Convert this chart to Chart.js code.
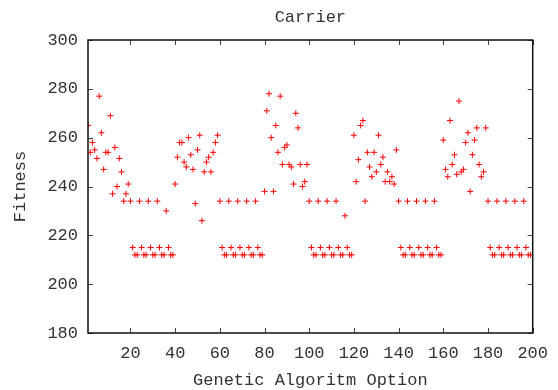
<!DOCTYPE html>
<html>
<head>
<meta charset="utf-8">
<title>Carrier</title>
<script src="https://cdn.jsdelivr.net/npm/chart.js@4/dist/chart.umd.min.js"></script>
<style>
  html, body { margin: 0; padding: 0; background: #fff; }
  #wrap { width: 558px; height: 390px; }
</style>
</head>
<body>
<div id="wrap"><canvas id="fitnessChart" width="558" height="390"></canvas></div>
<script>
// Option numbers (1..199) and the fitness reached with each option
const optionNo = [
    1,   2,   3,   4,   5,   6,   7,   8,   9,  10,  11,  12,  13,  14,  15,  16,  17,  18,  19,  20,
   21,  22,  23,  24,  25,  26,  27,  28,  29,  30,  31,  32,  33,  34,  35,  36,  37,  38,  39,  40,
   41,  42,  43,  44,  45,  46,  47,  48,  49,  50,  51,  52,  53,  54,  55,  56,  57,  58,  59,  60,
   61,  62,  63,  64,  65,  66,  67,  68,  69,  70,  71,  72,  73,  74,  75,  76,  77,  78,  79,  80,
   81,  82,  83,  84,  85,  86,  87,  88,  89,  90,  91,  92,  93,  94,  95,  96,  97,  98,  99, 100,
  101, 102, 103, 104, 105, 106, 107, 108, 109, 110, 111, 112, 113, 114, 115, 116, 117, 118, 119, 120,
  121, 122, 123, 124, 125, 126, 127, 128, 129, 130, 131, 132, 133, 134, 135, 136, 137, 138, 139, 140,
  141, 142, 143, 144, 145, 146, 147, 148, 149, 150, 151, 152, 153, 154, 155, 156, 157, 158, 159, 160,
  161, 162, 163, 164, 165, 166, 167, 168, 169, 170, 171, 172, 173, 174, 175, 176, 177, 178, 179, 180,
  181, 182, 183, 184, 185, 186, 187, 188, 189, 190, 191, 192, 193, 194, 195, 196, 197, 198, 199
];
const fitness = [
  265, 254, 258, 255, 251.5, 277, 262, 247, 254, 254, 269, 237, 256, 240, 251.5, 246, 234, 237, 241, 234,
  215, 212, 212, 234, 215, 212, 212, 234, 215, 212, 212, 234, 215, 212, 212, 230, 215, 212, 212, 241,
  252, 258, 258, 250, 248, 260, 253, 247, 233, 255, 261, 226, 246, 250, 252, 246, 254, 258, 261, 234,
  215, 212, 212, 234, 215, 212, 212, 234, 215, 212, 212, 234, 215, 212, 212, 234, 215, 212, 212, 238,
  271, 278, 260, 238, 265, 254, 277, 249, 256, 257, 249, 248, 241, 270, 264, 249, 240, 242, 249, 234,
  215, 212, 212, 234, 215, 212, 212, 234, 215, 212, 212, 234, 215, 212, 212, 228, 215, 212, 212, 261,
  242, 251, 265, 267, 234, 254, 248, 244, 254, 246, 261, 249, 252, 242, 246, 242, 244, 241, 255, 234,
  215, 212, 212, 234, 215, 212, 212, 234, 215, 212, 212, 234, 215, 212, 212, 234, 215, 212, 212, 259,
  247, 244, 267, 249, 253, 245, 275, 246, 247, 258, 262, 238, 253, 259, 264, 249, 244, 246, 264, 234,
  215, 212, 212, 234, 215, 212, 212, 234, 215, 212, 212, 234, 215, 212, 212, 234, 215, 212, 212
];

const xTicks = [20, 40, 60, 80, 100, 120, 140, 160, 180, 200];
const yTicks = [180, 200, 220, 240, 260, 280, 300];

const FONT = 'Liberation Mono';
const TEXT = '#333';

// box round the plot with gnuplot-style inward ticks, plus the titles
const framePlugin = {
    id: 'frame',
    afterDatasetsDraw(chart) {
        const { ctx, chartArea: a, scales: { x, y } } = chart;
        ctx.save();
        ctx.strokeStyle = '#444';
        ctx.lineWidth = 1;
        ctx.beginPath();
        xTicks.forEach(v => {
            const px = Math.round(x.getPixelForValue(v)) + 0.5;
            ctx.moveTo(px, a.bottom); ctx.lineTo(px, a.bottom - 5);
            ctx.moveTo(px, a.top); ctx.lineTo(px, a.top + 5);
        });
        yTicks.forEach(v => {
            const py = Math.round(y.getPixelForValue(v)) + 0.5;
            ctx.moveTo(a.left, py); ctx.lineTo(a.left + 5, py);
            ctx.moveTo(a.right, py); ctx.lineTo(a.right - 5, py);
        });
        ctx.stroke();

        ctx.strokeStyle = '#111';
        ctx.lineWidth = 1.5;
        ctx.strokeRect(a.left, a.top, a.right - a.left, a.bottom - a.top);
        ctx.restore();
    },
    afterDraw(chart) {
        const { ctx, chartArea: a } = chart;
        const cx = (a.left + a.right) / 2;
        ctx.save();
        ctx.fillStyle = TEXT;
        ctx.font = '17px "' + FONT + '"';
        ctx.textAlign = 'center';
        ctx.textBaseline = 'alphabetic';
        ctx.fillText('Carrier', cx, 22);
        ctx.fillText('Genetic Algoritm Option', cx, 385);

        ctx.translate(25, (a.top + a.bottom) / 2);
        ctx.rotate(-Math.PI / 2);
        ctx.fillText('Fitness', 0, 0);
        ctx.restore();
    }
};

const fitnessChart = new Chart(document.getElementById('fitnessChart'), {
    type: 'scatter',
    data: {
        datasets: [{
            label: 'Fitness',
            data: optionNo.map((o, i) => ({ x: o, y: fitness[i] })),
            pointStyle: 'cross',
            pointRadius: 3,
            pointHoverRadius: 3,
            borderColor: '#ff0000',
            backgroundColor: '#ff0000',
            borderWidth: 1
        }]
    },
    options: {
        responsive: false,
        animation: false,
        devicePixelRatio: 1,
        layout: { padding: { top: 40, right: 20, bottom: 0, left: 0 } },
        plugins: {
            legend: { display: false },
            tooltip: { enabled: false },
            title: { display: false }
        },
        scales: {
            x: {
                type: 'linear',
                min: 1,
                max: 200,
                afterBuildTicks: scale => { scale.ticks = xTicks.map(v => ({ value: v })); },
                afterFit: scale => { scale.height = 57; },
                grid: { display: false, drawTicks: false },
                border: { display: false },
                ticks: {
                    color: TEXT,
                    padding: 10,
                    maxRotation: 0,
                    autoSkip: false,
                    font: { family: FONT, size: 17 }
                }
            },
            y: {
                min: 180,
                max: 300,
                afterBuildTicks: scale => { scale.ticks = yTicks.map(v => ({ value: v })); },
                afterFit: scale => { scale.width = 88; },
                grid: { display: false, drawTicks: false },
                border: { display: false },
                ticks: {
                    color: TEXT,
                    padding: 10,
                    font: { family: FONT, size: 17 }
                }
            }
        }
    },
    plugins: [framePlugin]
});
</script>
</body>
</html>
